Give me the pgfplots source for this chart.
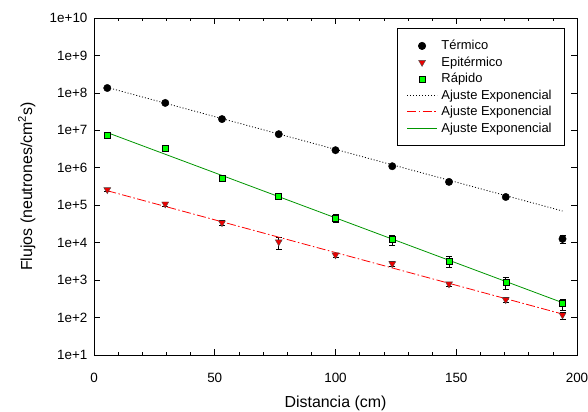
\documentclass[border=0pt]{standalone}
\usepackage{fontspec}
\setmainfont{Liberation Sans}
\usepackage{pgfplots}
\pgfplotsset{compat=1.18}
\definecolor{fitgreen}{RGB}{0,150,0}
\definecolor{ptgreen}{RGB}{0,255,0}
\definecolor{ptred}{RGB}{235,0,0}

\begin{document}
\begin{tikzpicture}
\useasboundingbox (-94bp,-57bp) rectangle (494bp,355bp);
\begin{axis}[
    at={(0,0)}, anchor=south west,
    scale only axis, width=483bp, height=337bp,
    ymode=log, log basis y=10,
    xmin=0, xmax=200, ymin=1e1, ymax=1e10,
    xtick={0,50,100,150,200}, minor x tick num=4,
    ytick={1e1,1e2,1e3,1e4,1e5,1e6,1e7,1e8,1e9,1e10},
    tick align=inside,
    major tick length=6bp, minor tick length=3bp,
    tick style={black, line width=0.6bp},
    axis line style={line width=0.8bp},
    /pgf/number format/assume math mode=true,
    ticklabel style={font=\fontsize{13.5}{15}\selectfont},
    yticklabel={\pgfmathtruncatemacro\ex{round(\tick)}1e+\ex},
    xticklabel style={anchor=base, yshift=-28bp},
    yticklabel style={xshift=-3bp},
    xlabel={Distancia (cm)},
    ylabel={Flujos (neutrones/cm\textsuperscript{2}s)},
    label style={font=\fontsize{16}{18}\selectfont},
    xlabel style={at={(axis description cs:0.5,-0.157)}, anchor=base},
    ylabel style={at={(axis description cs:-0.139,0.5)}, anchor=center},
    legend cell align=left,
    legend style={at={(0.975,0.97)}, anchor=north east,
        draw=black, line width=0.6bp,
        font=\fontsize{13}{15}\selectfont,
        row sep=1.5bp, inner xsep=9bp, inner ysep=10bp,
        nodes={inner xsep=4bp}},
    legend image code/.code={\draw[mark repeat=2,mark phase=2,#1]
        plot coordinates {(0bp,0bp)(15bp,0bp)(30bp,0bp)};},
    error bars/y dir=both, error bars/y explicit,
    error bars/error bar style={black, line width=0.6bp},
    error bars/error mark options={rotate=90, black, mark size=3bp, line width=0.6bp},
]
% Termico
\addplot[only marks, mark=*, mark size=3.7bp, black]
  table[x=x, y=y, y error=e] {
x y e
5.5 1.35e8 6e6
29.5 5.4e7 2.5e6
53 2.0e7 1e6
76.5 7.9e6 4e5
100 2.95e6 1.5e5
123.5 1.1e6 6e4
147 4.2e5 2.5e4
170.5 1.66e5 1e4
194 1.26e4 3.2e3
};
\addlegendentry{Térmico}
% Epitermico
\addplot[only marks, mark=triangle*, mark options={rotate=180, fill=ptred, draw=black!70, line width=0.4bp}, mark size=4bp]
  table[x=x, y=y, y error=e] {
x y e
5.5 2.6e5 3e4
29.5 1.08e5 1.3e4
53 3.4e4 5e3
76.5 1.05e4 3.8e3
100 4.7e3 6e2
123.5 2.75e3 4e2
147 7.9e2 1e2
170.5 3.0e2 5e1
194 1.17e2 2.5e1
};
\addlegendentry{Epitérmico}
% Rapido
\addplot[only marks, mark=square*, mark options={fill=ptgreen, draw=black, line width=0.5bp}, mark size=3bp]
  table[x=x, y=y, y error=e] {
x y e
5.5 7.6e6 6e5
29.5 3.4e6 4e5
53 5.4e5 6e4
76.5 1.73e5 2e4
100 4.5e4 1.1e4
123.5 1.2e4 3.4e3
147 3.2e3 1e3
170.5 8.7e2 3e2
194 2.35e2 8e1
};
\addlegendentry{Rápido}
% fits
\addplot[black, line width=0.8bp, dash pattern=on 1bp off 2bp] coordinates {(5.5,1.40e8) (194,7.0e4)};
\addlegendentry{Ajuste Exponencial}
\addplot[red, line width=0.8bp, dash pattern=on 9bp off 2.5bp on 1.5bp off 2.5bp] coordinates {(5.5,2.44e5) (194,1.24e2)};
\addlegendentry{Ajuste Exponencial}
\addplot[fitgreen, line width=0.8bp] coordinates {(5.5,8.7e6) (194,2.5e2)};
\addlegendentry{Ajuste Exponencial}
\end{axis}
\end{tikzpicture}
\end{document}
